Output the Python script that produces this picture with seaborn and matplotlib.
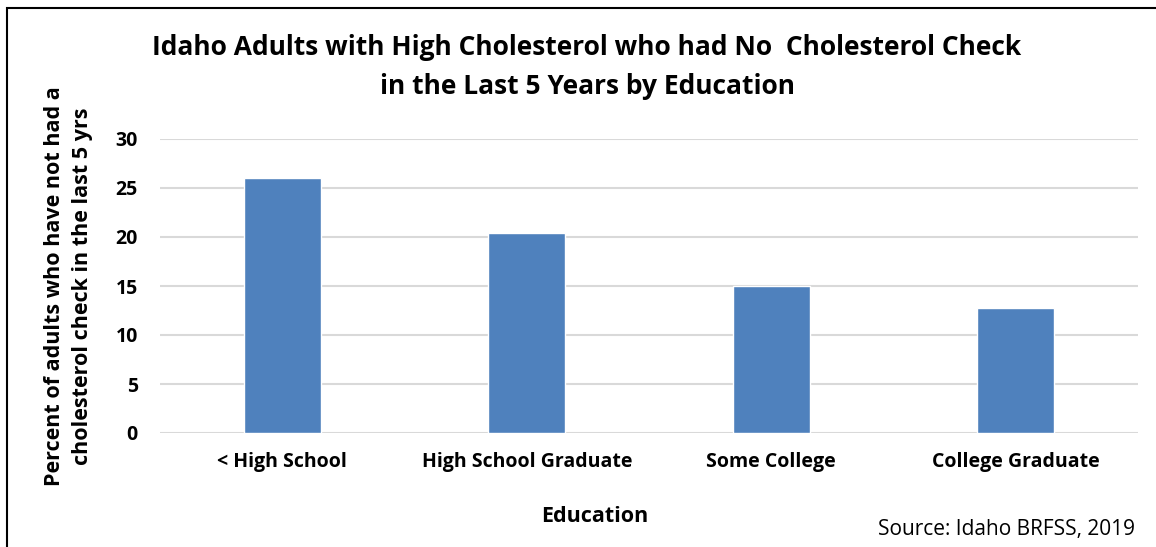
import numpy as np
import pandas as pd
import seaborn as sns
import matplotlib
matplotlib.use('Agg')
import matplotlib.pyplot as plt
from matplotlib.patches import Rectangle

# data
education = ['< High School', 'High School Graduate', 'Some College', 'College Graduate']
pct_no_check = [26.0, 20.4, 15.0, 12.8]
yticks = [0, 5, 10, 15, 20, 25, 30]

df = pd.DataFrame({'education': education, 'pct': pct_no_check})

sns.set_style('white', {'text.color': 'black', 'axes.labelcolor': 'black',
                        'xtick.color': 'black', 'ytick.color': 'black'})
plt.rcParams['font.family'] = ['Open Sans', 'DejaVu Sans']

W, H = 1156, 547
fig = plt.figure(figsize=(W / 100, H / 100), dpi=100)
ax = fig.add_axes([160 / W, 1 - 433 / H, (1138 - 160) / W, (433 - 139) / H])

sns.barplot(data=df, x='education', y='pct', color='#4F81BD', width=0.315,
            saturation=1, ax=ax, zorder=3)

ax.set_ylim(0, 30)
ax.set_yticks(yticks)
ax.yaxis.grid(True, color='#d9d9d9', linewidth=1.5, zorder=0)
ax.set_axisbelow(True)
for s in ax.spines.values():
    s.set_visible(False)
ax.tick_params(axis='both', length=0, labelsize=14, labelcolor='black')
ax.yaxis.set_tick_params(pad=16)
ax.xaxis.set_tick_params(pad=14)
for lab in ax.get_xticklabels() + ax.get_yticklabels():
    lab.set_fontweight('bold')
ax.set_xlabel('')
ax.set_ylabel('Percent of adults who have not had a\ncholesterol check in the last 5 yrs',
              fontsize=15.5, fontweight='bold', labelpad=16, linespacing=1.45, color='black')

fig.text(587 / W, 1 - 48 / H, 'Idaho Adults with High Cholesterol who had No  Cholesterol Check',
         ha='center', va='center', fontsize=19, fontweight='bold', color='black')
fig.text(587 / W, 1 - 87 / H, 'in the Last 5 Years by Education',
         ha='center', va='center', fontsize=19, fontweight='bold', color='black')
fig.text(595 / W, 1 - 516 / H, 'Education', ha='center', va='center',
         fontsize=15.5, fontweight='bold', color='black')
fig.text(1135 / W, 1 - 530 / H, 'Source: Idaho BRFSS, 2019', ha='right', va='center',
         fontsize=15, color='black')

# outer frame of the chart object
fig.patches.append(Rectangle((7 / W, -0.1), 1.2, 1 - 8 / H + 0.1, transform=fig.transFigure,
                             fill=False, edgecolor='black', linewidth=1.5))

fig.savefig('out.png', dpi=100)
